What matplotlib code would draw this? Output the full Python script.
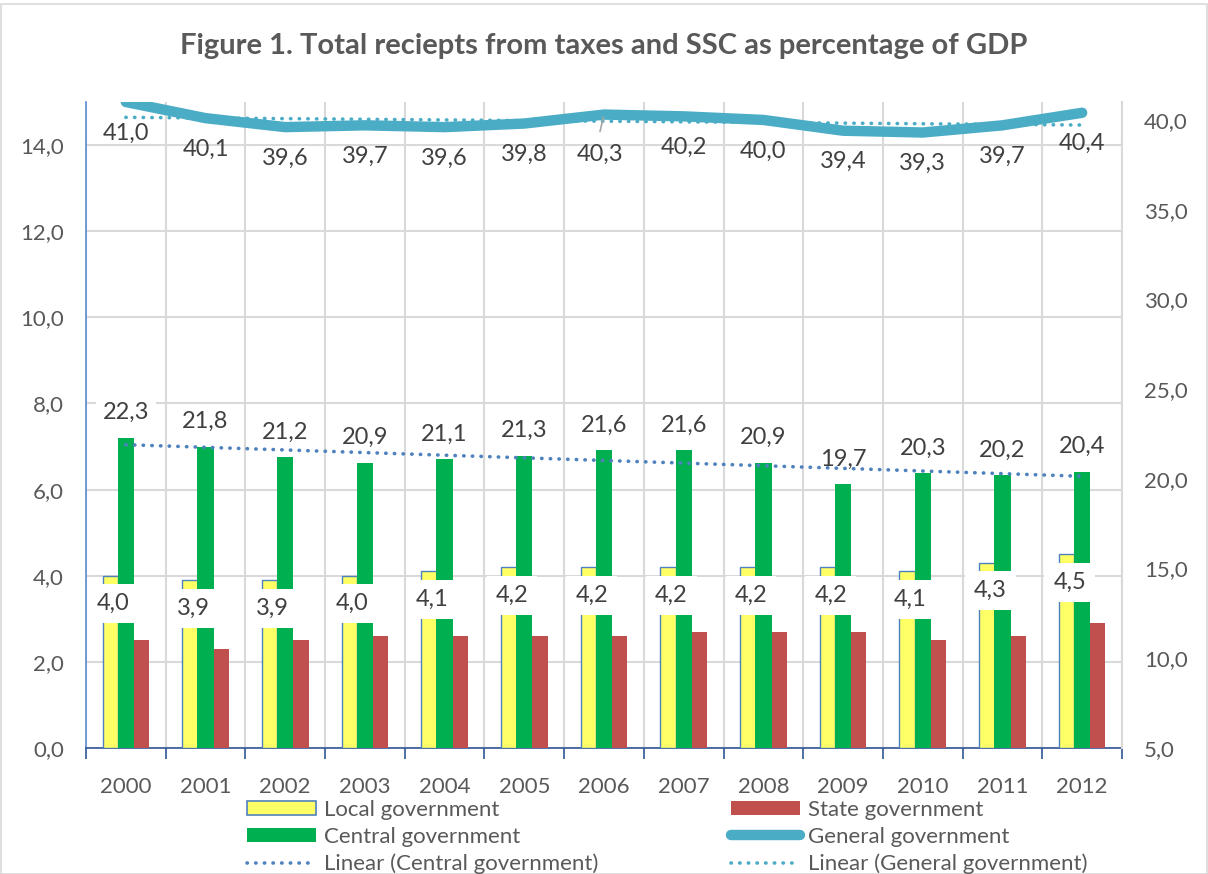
import numpy as np
import matplotlib
matplotlib.use("Agg")
import matplotlib.pyplot as plt
from matplotlib.patches import Patch, Rectangle
from matplotlib.lines import Line2D

plt.rcParams['font.family'] = ['Lato', 'DejaVu Sans']

years = ['2000', '2001', '2002', '2003', '2004', '2005', '2006',
         '2007', '2008', '2009', '2010', '2011', '2012']
local_gov = [4.0, 3.9, 3.9, 4.0, 4.1, 4.2, 4.2, 4.2, 4.2, 4.2, 4.1, 4.3, 4.5]
state_gov = [2.5, 2.3, 2.5, 2.6, 2.6, 2.6, 2.6, 2.7, 2.7, 2.7, 2.5, 2.6, 2.9]
central_gov = [22.3, 21.8, 21.2, 20.9, 21.1, 21.3, 21.6, 21.6, 20.9, 19.7, 20.3, 20.2, 20.4]
general_gov = [41.0, 40.1, 39.6, 39.7, 39.6, 39.8, 40.3, 40.2, 40.0, 39.4, 39.3, 39.7, 40.4]

left_ticks = [0, 2, 4, 6, 8, 10, 12, 14]
right_ticks = [5, 10, 15, 20, 25, 30, 35, 40]

TXT = '#595959'
LBL = '#404040'
YELLOW = '#FFFF66'
GREEN = '#00B050'
RED = '#C0504D'
TEAL = '#4BACC6'
BLUE = '#4F81BD'
GRID = '#D9D9D9'
FS = 16
DFS = 17

def fmt(v):
    return f"{v:.1f}".replace('.', ',')

W, H = 1208, 874
fig = plt.figure(figsize=(W / 100, H / 100), dpi=100)
fig.patches.append(Rectangle((0.5 / W, 0.5 / H), 1 - 2 / W, 1 - 4 / H, transform=fig.transFigure,
                             fill=False, edgecolor=GRID, linewidth=1.2))

ax = fig.add_axes([86 / W, 1 - 748 / H, (1122 - 86) / W, (748 - 102) / H])
ax2 = ax.twinx()

x = np.arange(len(years))
bw = 0.195

ax.bar(x - bw, local_gov, width=bw, color=YELLOW, edgecolor='#4F81BD', linewidth=1.0, zorder=3)
ax.bar(x + bw, state_gov, width=bw, color=RED, edgecolor='none', zorder=3)
ax.set_xlim(-0.5, len(years) - 0.5)
ax.set_ylim(0, 15)
ax.set_yticks(left_ticks)
ax.set_yticklabels([fmt(v) for v in left_ticks])
ax.set_xticks(x)
ax.set_xticklabels(years)
ax.set_xticks(np.arange(len(years) + 1) - 0.5, minor=True)
ax.tick_params(axis='x', which='major', length=0, pad=21, labelsize=FS, labelcolor=TXT)
ax.tick_params(axis='x', which='minor', length=8, width=1.2, color='#2F5597', direction='out')
ax.tick_params(axis='y', length=0, pad=16, labelsize=FS, labelcolor=TXT)
ax.grid(axis='y', which='major', color=GRID, linewidth=1.5, zorder=0)
ax.grid(axis='x', which='minor', color=GRID, linewidth=1.5, zorder=0)
ax.set_axisbelow(True)
for s in ['top', 'right']:
    ax.spines[s].set_visible(False)
ax.spines['left'].set_color('#5B8BD0')
ax.spines['left'].set_linewidth(1.2)
ax.spines['bottom'].set_color('#2F5597')
ax.spines['bottom'].set_linewidth(1.2)

# secondary axis
ax2.bar(x, central_gov, width=bw * 1.05, color=GREEN, edgecolor='none', zorder=3)
ax2.set_ylim(5, 41)
ax2.set_yticks(right_ticks)
ax2.set_yticklabels([fmt(v) for v in right_ticks])
ax2.tick_params(axis='y', length=0, pad=16, labelsize=FS, labelcolor=TXT)
for s in ['top', 'left', 'bottom']:
    ax2.spines[s].set_visible(False)
ax2.spines['right'].set_color(GRID)
ax2.spines['right'].set_linewidth(1.5)

# trendlines
pc = np.polyfit(x, central_gov, 1)
pg = np.polyfit(x, general_gov, 1)
ax2.plot(x, np.polyval(pc, x), color=BLUE, linewidth=2.6, linestyle=(0, (0.1, 2.3)),
         dash_capstyle='round', zorder=4)
ax2.plot(x, np.polyval(pg, x), color=TEAL, linewidth=2.6, linestyle=(0, (0.1, 2.3)),
         dash_capstyle='round', zorder=4)

# general government line
ax2.plot(x, general_gov, color=TEAL, linewidth=7.5, solid_capstyle='round',
         solid_joinstyle='round', zorder=5)

for i, (xi, v) in enumerate(zip(x, general_gov)):
    if years[i] == '2006':
        ax2.annotate(fmt(v), (xi, v), xytext=(-4, -40), textcoords='offset pixels',
                     ha='center', va='center', fontsize=DFS, color=LBL, zorder=6)
        ax2.annotate('', (xi, v), xytext=(-4, -17), textcoords='offset pixels',
                     arrowprops=dict(arrowstyle='-', color='#A6A6A6', lw=1.2,
                                     shrinkA=0, shrinkB=2), zorder=6)
    else:
        ax2.annotate(fmt(v), (xi, v), xytext=(0, -31), textcoords='offset pixels',
                     ha='center', va='center', fontsize=DFS, color=LBL, zorder=6)
for xi, v in zip(x, central_gov):
    ax2.annotate(fmt(v), (xi, v), xytext=(0, 25), textcoords='offset pixels',
                 ha='center', va='center', fontsize=DFS, color=LBL, zorder=3.5,
                 bbox=dict(boxstyle='square,pad=0.3', facecolor='white', edgecolor='none'))
for xi, v in zip(x, local_gov):
    ax2.annotate(fmt(v), (xi - bw + 0.04, v), xycoords=ax.transData, xytext=(0, -28),
                 textcoords='offset pixels', ha='center', va='center', fontsize=DFS,
                 color=LBL, zorder=7,
                 bbox=dict(boxstyle='square,pad=0.38', facecolor='white', edgecolor='none'))

fig.text(0.5, 1 - 46 / H, 'Figure 1. Total reciepts from taxes and SSC as percentage of GDP',
         ha='center', va='center', fontsize=21, fontweight='bold', color=TXT)

h_local = Patch(facecolor=YELLOW, edgecolor='#4F81BD', linewidth=1.2)
h_state = Patch(facecolor=RED, edgecolor='none')
h_central = Patch(facecolor=GREEN, edgecolor='none')
h_general = Line2D([], [], color=TEAL, linewidth=7.5, solid_capstyle='round')
h_lc = Line2D([], [], color=BLUE, linewidth=2.6, linestyle=(0, (0.1, 2.3)), dash_capstyle='round')
h_lg = Line2D([], [], color=TEAL, linewidth=2.6, linestyle=(0, (0.1, 2.3)), dash_capstyle='round')

leg_kw = dict(loc='upper left', frameon=False, fontsize=FS, labelcolor=TXT,
              handlelength=3.1, handleheight=0.6, handletextpad=0.36, labelspacing=0.31,
              borderpad=0, borderaxespad=0)
fig.legend([h_local, h_central, h_lc],
           ['Local government', 'Central government', 'Linear (Central government)'],
           bbox_to_anchor=(247 / W, 1 - 800 / H), **leg_kw)
fig.legend([h_state, h_general, h_lg],
           ['State government', 'General government', 'Linear (General government)'],
           bbox_to_anchor=(731 / W, 1 - 800 / H), **leg_kw)

fig.savefig('out.png', dpi=100)
